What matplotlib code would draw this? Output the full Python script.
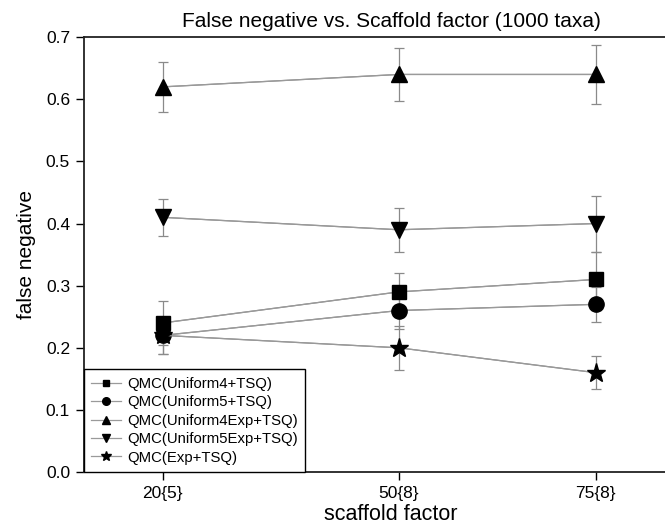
import matplotlib
matplotlib.use("Agg")
import matplotlib.pyplot as plt

plt.rcParams['font.family'] = ['Liberation Sans', 'DejaVu Sans']

# scaffold factor positions and labels
x = [20, 50, 75]
xlabels = ["20{5}", "50{8}", "75{8}"]

# false negative rates and error bars
uniform4 = [0.24, 0.29, 0.31]
uniform4_err = [0.035, 0.030, 0.044]
uniform5 = [0.22, 0.26, 0.27]
uniform5_err = [0.030, 0.030, 0.028]
uniform4exp = [0.62, 0.64, 0.64]
uniform4exp_err = [0.040, 0.042, 0.048]
uniform5exp = [0.41, 0.39, 0.40]
uniform5exp_err = [0.030, 0.035, 0.045]
exp_tsq = [0.22, 0.20, 0.16]
exp_tsq_err = [0.030, 0.035, 0.027]

series = [
    ("QMC(Uniform4+TSQ)", uniform4, uniform4_err, "s", 10),
    ("QMC(Uniform5+TSQ)", uniform5, uniform5_err, "o", 11),
    ("QMC(Uniform4Exp+TSQ)", uniform4exp, uniform4exp_err, "^", 12),
    ("QMC(Uniform5Exp+TSQ)", uniform5exp, uniform5exp_err, "v", 12),
    ("QMC(Exp+TSQ)", exp_tsq, exp_tsq_err, "*", 14),
]

fig = plt.figure(figsize=(6.65, 5.31), dpi=100)
# axes runs past the right edge of the picture, like the original
ax = fig.add_axes([84 / 665, 0.111, 614 / 665, 0.819])

for label, y, err, m, ms in series:
    ax.errorbar(x, y, yerr=err, color="#8a8a8a", lw=0.9, elinewidth=0.9,
                capsize=3.5, capthick=0.9, zorder=2)
    ax.plot(x, y, linestyle="-", color="#9a9a9a", lw=0.9, marker=m,
            markersize=ms, markerfacecolor="black", markeredgecolor="black",
            label=label, zorder=3)

ax.set_xlim(10, 88)
ax.set_ylim(0.0, 0.7)
ax.set_xticks(x)
ax.set_xticklabels(xlabels)
ax.set_yticks([0.0, 0.1, 0.2, 0.3, 0.4, 0.5, 0.6, 0.7])
ax.tick_params(direction="out", length=6, width=1, labelsize=12.5, pad=4)
ax.spines["right"].set_visible(False)
for s in ["left", "bottom", "top"]:
    ax.spines[s].set_linewidth(1.3)
    ax.spines[s].set_color("#222222")

ax.set_xlabel("scaffold factor", fontsize=15.5, labelpad=2)
ax.set_ylabel("false negative", fontsize=15, labelpad=7)
ax.set_title("False negative vs. Scaffold factor (1000 taxa)", fontsize=15, pad=7)

leg = ax.legend(loc="lower left", bbox_to_anchor=(0, 0), fontsize=10.7,
                markerscale=0.5, handlelength=2.0, handletextpad=0.4,
                labelspacing=0.3, borderpad=0.5, fancybox=False,
                framealpha=1, edgecolor="black", borderaxespad=0)
leg.get_frame().set_linewidth(1.0)

fig.savefig("out.png", dpi=100)
